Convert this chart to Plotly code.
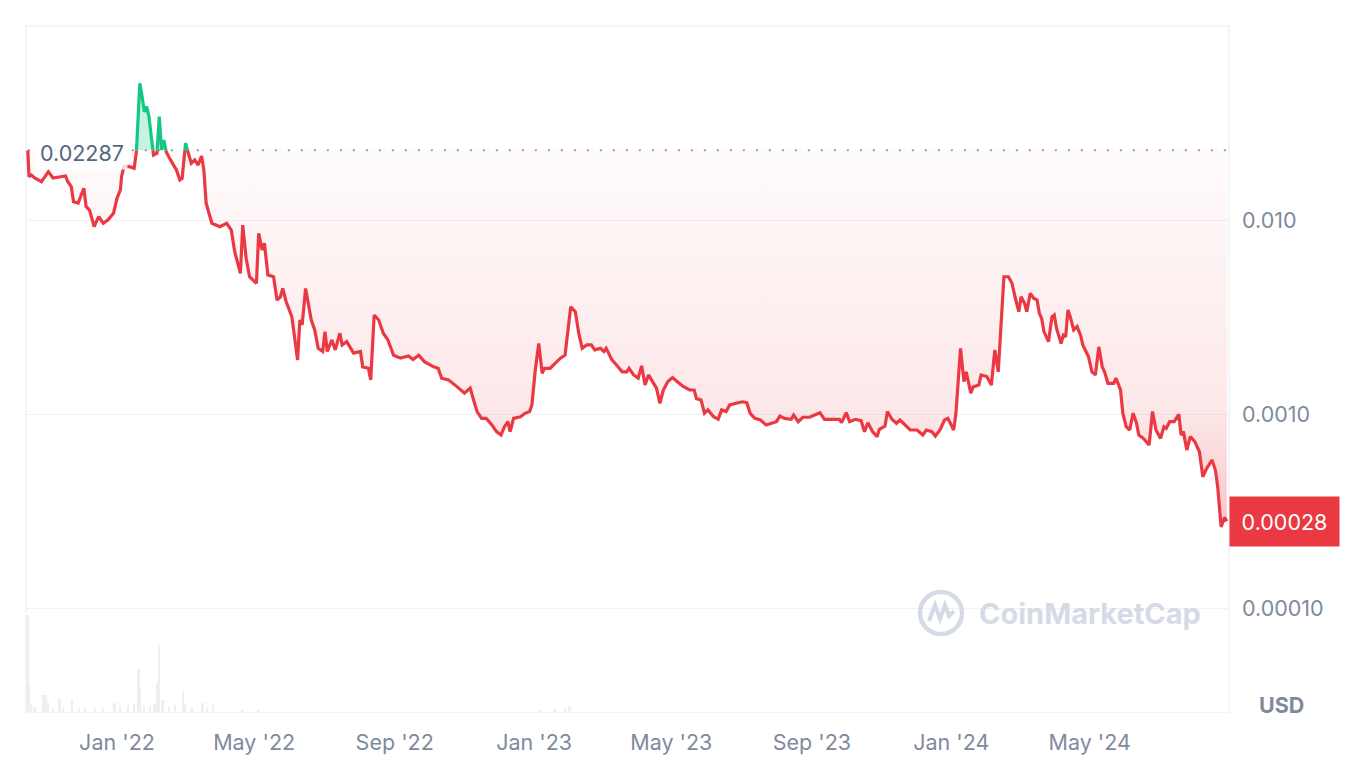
import numpy as np
import pandas as pd
import plotly.graph_objects as go

# ---------------- data ----------------
DATES = [
    "2021-10-15", "2021-10-16", "2021-10-18", "2021-10-21", "2021-10-27", "2021-11-02", "2021-11-06",
    "2021-11-14", "2021-11-17", "2021-11-19", "2021-11-22", "2021-11-24", "2021-11-28", "2021-12-03",
    "2021-12-05", "2021-12-08", "2021-12-12", "2021-12-16", "2021-12-20", "2021-12-24", "2021-12-29",
    "2022-01-01", "2022-01-04", "2022-01-05", "2022-01-07", "2022-01-12", "2022-01-16", "2022-01-18",
    "2022-01-21", "2022-01-23", "2022-01-25", "2022-01-27", "2022-01-29", "2022-01-31", "2022-02-02",
    "2022-02-05", "2022-02-07", "2022-02-09", "2022-02-11", "2022-02-13", "2022-02-16", "2022-02-19",
    "2022-02-22", "2022-02-25", "2022-02-27", "2022-03-02", "2022-03-04", "2022-03-07", "2022-03-10",
    "2022-03-13", "2022-03-16", "2022-03-18", "2022-03-20", "2022-03-25", "2022-04-01", "2022-04-07",
    "2022-04-11", "2022-04-14", "2022-04-19", "2022-04-21", "2022-04-24", "2022-04-27", "2022-05-03",
    "2022-05-05", "2022-05-08", "2022-05-10", "2022-05-13", "2022-05-18", "2022-05-21", "2022-05-24",
    "2022-05-26", "2022-05-29", "2022-06-03", "2022-06-06", "2022-06-08", "2022-06-10", "2022-06-12",
    "2022-06-15", "2022-06-17", "2022-06-20", "2022-06-23", "2022-06-26", "2022-06-30", "2022-07-02",
    "2022-07-04", "2022-07-08", "2022-07-11", "2022-07-15", "2022-07-17", "2022-07-21", "2022-07-27",
    "2022-08-02", "2022-08-04", "2022-08-09", "2022-08-11", "2022-08-14", "2022-08-18", "2022-08-22",
    "2022-08-26", "2022-08-31", "2022-09-06", "2022-09-13", "2022-09-17", "2022-09-22", "2022-09-27",
    "2022-10-05", "2022-10-09", "2022-10-12", "2022-10-18", "2022-10-22", "2022-10-27", "2022-11-01",
    "2022-11-06", "2022-11-09", "2022-11-12", "2022-11-16", "2022-11-20", "2022-11-25", "2022-11-29",
    "2022-12-03", "2022-12-06", "2022-12-09", "2022-12-11", "2022-12-14", "2022-12-20", "2022-12-24",
    "2022-12-28", "2022-12-30",
    "2023-01-02", "2023-01-05", "2023-01-08", "2023-01-10", "2023-01-15", "2023-01-19", "2023-01-24",
    "2023-01-28", "2023-01-30", "2023-02-02", "2023-02-06", "2023-02-09", "2023-02-12", "2023-02-16",
    "2023-02-20", "2023-02-23", "2023-02-28", "2023-03-03", "2023-03-05", "2023-03-10", "2023-03-14",
    "2023-03-19", "2023-03-23", "2023-03-25", "2023-03-29", "2023-04-02", "2023-04-05", "2023-04-08",
    "2023-04-11", "2023-04-15", "2023-04-18", "2023-04-21", "2023-04-24", "2023-04-28", "2023-05-02",
    "2023-05-06", "2023-05-11", "2023-05-17", "2023-05-21", "2023-05-23", "2023-05-27", "2023-05-30",
    "2023-06-02", "2023-06-07", "2023-06-11", "2023-06-14", "2023-06-18", "2023-06-21", "2023-06-27",
    "2023-07-02", "2023-07-06", "2023-07-09", "2023-07-13", "2023-07-18", "2023-07-23", "2023-07-28",
    "2023-08-01", "2023-08-04", "2023-08-08", "2023-08-14", "2023-08-16", "2023-08-20", "2023-08-24",
    "2023-08-30", "2023-09-04", "2023-09-08", "2023-09-12", "2023-09-20", "2023-09-25", "2023-09-27",
    "2023-10-01", "2023-10-04", "2023-10-09", "2023-10-14", "2023-10-17", "2023-10-20", "2023-10-24",
    "2023-10-28", "2023-10-30", "2023-11-04", "2023-11-06", "2023-11-10", "2023-11-14", "2023-11-17",
    "2023-11-21", "2023-11-26", "2023-12-02", "2023-12-07", "2023-12-10", "2023-12-15", "2023-12-18",
    "2023-12-22", "2023-12-26", "2023-12-29",
    "2024-01-03", "2024-01-05", "2024-01-09", "2024-01-12", "2024-01-14", "2024-01-18", "2024-01-20",
    "2024-01-25", "2024-01-27", "2024-02-01", "2024-02-05", "2024-02-08", "2024-02-11", "2024-02-14",
    "2024-02-16", "2024-02-20", "2024-02-23", "2024-02-26", "2024-02-29", "2024-03-02", "2024-03-05",
    "2024-03-07", "2024-03-10", "2024-03-13", "2024-03-16", "2024-03-18", "2024-03-20", "2024-03-22",
    "2024-03-26", "2024-03-29", "2024-03-31", "2024-04-02", "2024-04-04", "2024-04-06", "2024-04-08",
    "2024-04-10", "2024-04-12", "2024-04-14", "2024-04-17", "2024-04-20", "2024-04-23", "2024-04-25",
    "2024-04-30", "2024-05-03", "2024-05-06", "2024-05-09", "2024-05-12", "2024-05-14", "2024-05-17",
    "2024-05-22", "2024-05-24", "2024-05-28", "2024-05-30", "2024-06-02", "2024-06-05", "2024-06-08",
    "2024-06-11", "2024-06-13", "2024-06-17", "2024-06-22", "2024-06-25", "2024-06-28", "2024-07-02",
    "2024-07-05", "2024-07-07", "2024-07-10", "2024-07-14", "2024-07-18", "2024-07-20", "2024-07-22",
    "2024-07-25", "2024-07-28", "2024-08-01", "2024-08-05", "2024-08-08", "2024-08-11", "2024-08-16",
    "2024-08-19", "2024-08-21", "2024-08-24", "2024-08-27", "2024-08-29",
]

PRICES = [
    0.02287, 0.01672, 0.01706, 0.01646, 0.01575, 0.01774, 0.01646,
    0.01672, 0.01686, 0.01575, 0.01485, 0.01243, 0.01224, 0.01458,
    0.01171, 0.01126, 0.00924, 0.01040, 0.00962, 0.01000, 0.01083,
    0.01294, 0.01429, 0.01672, 0.01883, 0.01883, 0.01847, 0.02249,
    0.05064, 0.04321, 0.03616, 0.03837, 0.03408, 0.02688, 0.02163,
    0.02207, 0.03408, 0.02296, 0.02585, 0.02249, 0.02080, 0.01921,
    0.01811, 0.01608, 0.01640, 0.02486, 0.02249, 0.01960, 0.02038,
    0.01921, 0.02138, 0.01811, 0.01220, 0.00962, 0.00924, 0.00962,
    0.00888, 0.00686, 0.00531, 0.00942, 0.00635, 0.00510, 0.00472,
    0.00854, 0.00700, 0.00759, 0.00521, 0.00510, 0.00387, 0.00402,
    0.00444, 0.00379, 0.00317, 0.00231, 0.00190, 0.00305, 0.00288,
    0.00444, 0.00387, 0.00305, 0.00271, 0.00218, 0.00210, 0.00266,
    0.00210, 0.00241, 0.00214, 0.00261, 0.00227, 0.00236, 0.00206,
    0.00210, 0.00175, 0.00172, 0.00150, 0.00324, 0.00305, 0.00261,
    0.00241, 0.00201, 0.00194, 0.00199, 0.00191, 0.00201, 0.00186,
    0.00175, 0.00172, 0.00153, 0.00150, 0.00144, 0.00136, 0.00128,
    0.00136, 0.00118, 0.00103, 0.000950, 0.000950, 0.000878, 0.000811,
    0.000779, 0.000860, 0.000913, 0.000811, 0.000950, 0.000968, 0.001008,
    0.00103, 0.001113,
    0.00169, 0.00231, 0.00162, 0.00172, 0.00172, 0.00182, 0.00194,
    0.00201, 0.00255, 0.00357, 0.00337, 0.00261, 0.00218, 0.00227,
    0.00227, 0.00214, 0.00218, 0.00210, 0.00218, 0.00190, 0.00179,
    0.00165, 0.00165, 0.00172, 0.00159, 0.00153, 0.00177, 0.00141,
    0.00159, 0.00144, 0.00136, 0.001135, 0.00133, 0.00147, 0.00154,
    0.00147, 0.00139, 0.00133, 0.00133, 0.00120, 0.00118, 0.00101,
    0.00105, 0.000968, 0.000939, 0.00105, 0.00103, 0.001113, 0.001135,
    0.001156, 0.001143, 0.001008, 0.000950, 0.000931, 0.000878, 0.000896,
    0.000913, 0.000976, 0.000950, 0.000939, 0.000988, 0.000913, 0.000962,
    0.000962, 0.000988, 0.001016, 0.000939, 0.000939, 0.000939, 0.000902,
    0.001016, 0.000913, 0.000939, 0.000924, 0.000811, 0.000902, 0.000811,
    0.000764, 0.000834, 0.000867, 0.00103, 0.000939, 0.000896, 0.000931,
    0.000885, 0.000827, 0.000827, 0.000779, 0.000827, 0.000811, 0.000770,
    0.000827, 0.000931, 0.000950,
    0.000827, 0.001008, 0.00218, 0.00147, 0.00165, 0.00128, 0.00138,
    0.00141, 0.00159, 0.00156, 0.00141, 0.00214, 0.00165, 0.00351,
    0.00510, 0.00510, 0.00472, 0.00395, 0.00337, 0.00402, 0.00372,
    0.00337, 0.00419, 0.00395, 0.00387, 0.00330, 0.00311, 0.00266,
    0.00236, 0.00317, 0.00324, 0.00277, 0.00255, 0.00231, 0.00255,
    0.00250, 0.00344, 0.00317, 0.00271, 0.00282, 0.00255, 0.00227,
    0.00197, 0.00165, 0.00159, 0.00222, 0.00175, 0.00165, 0.00144,
    0.00144, 0.00153, 0.00133, 0.00101, 0.000860, 0.000827, 0.00101,
    0.000896, 0.000779, 0.000749, 0.000692, 0.00103, 0.000827, 0.000749,
    0.000860, 0.000844, 0.000913, 0.000913, 0.000997, 0.000779, 0.000811,
    0.000652, 0.000764, 0.000720, 0.000639, 0.000475, 0.000519, 0.000579,
    0.000514, 0.000422, 0.000262, 0.000293, 0.000280,
]

VOL_DATES = [
    "2021-10-15", "2021-10-16", "2021-10-18", "2021-10-21", "2021-10-29", "2021-10-31", "2021-11-02",
    "2021-11-06", "2021-11-12", "2021-11-15", "2021-11-23", "2021-11-29", "2021-12-04", "2021-12-13",
    "2021-12-20", "2021-12-30", "2022-01-04", "2022-01-11", "2022-01-16", "2022-01-20", "2022-01-21",
    "2022-01-25", "2022-01-30", "2022-02-03", "2022-02-05", "2022-02-07", "2022-02-10", "2022-02-16",
    "2022-02-21", "2022-02-28", "2022-03-02", "2022-03-08", "2022-03-17", "2022-03-21", "2022-03-26",
    "2022-04-21", "2022-05-05", "2023-01-06", "2023-01-19", "2023-01-28", "2023-02-01",
]
VOLUMES = [  # relative volume
    97, 29, 8, 5, 17, 17, 10,
    4, 13, 5, 13, 4, 5, 4,
    4, 9, 6, 7, 8, 43, 24,
    6, 6, 8, 30, 67, 12, 5,
    7, 21, 8, 4, 9, 5, 7,
    2, 2, 2, 3, 4, 6,
]

X_TICKS = ["2022-01-01", "2022-05-01", "2022-09-01", "2023-01-01", "2023-05-01",
           "2023-09-01", "2024-01-01", "2024-05-01"]
X_TICK_TEXT = ["Jan '22", "May '22", "Sep '22", "Jan '23", "May '23", "Sep '23", "Jan '24", "May '24"]
Y_TICKS = [0.01, 0.001, 0.0001]
Y_TICK_TEXT = ["0.010", "0.0010", "0.00010"]
X_RANGE = ["2021-10-13 09:36", "2024-08-30 21:36"]
Y_RANGE_LOG = [-4.536, -1.0]

# ---------------- styles ----------------
RED = "#EA3943"
GREEN = "#16C784"
GREY_TXT = "#808A9D"
GRID = "#EFF2F5"
FONT = "Inter"
FS = 21.5

# ---------------- split the line at the opening price ----------------
base = PRICES[0]
t = pd.to_datetime(DATES).values.astype("datetime64[ms]").astype(np.int64).astype(float)
lp = np.log10(np.array(PRICES))
lb = np.log10(base)
T, L = [t[0]], [lp[0]]
for i in range(1, len(t)):
    a, b = lp[i - 1] - lb, lp[i] - lb
    if a * b < 0:
        f = a / (a - b)
        T.append(t[i - 1] + f * (t[i] - t[i - 1]))
        L.append(lb)
    T.append(t[i])
    L.append(lp[i])
T = np.array(T)
L = np.array(L)
TX = pd.to_datetime(T.astype(np.int64), unit="ms")
eps = 1e-9
red_y = np.where(L <= lb + eps, 10 ** L, np.nan)
green_y = np.where(L >= lb - eps, 10 ** L, np.nan)
red_fill = 10 ** np.minimum(L, lb)
green_fill = 10 ** np.maximum(L, lb)
base_y = np.full(len(T), base)

fig = go.Figure()

# volume bars (bottom strip)
fig.add_trace(go.Bar(x=pd.to_datetime(VOL_DATES), y=VOLUMES, yaxis="y2",
                     marker=dict(color="#ECEFF4", line=dict(width=0)),
                     width=1.6 * 86400000, hoverinfo="skip", showlegend=False))

# red area between line and opening price
fig.add_trace(go.Scatter(x=TX, y=base_y, mode="lines", line=dict(width=0, color="rgba(0,0,0,0)"),
                         hoverinfo="skip", showlegend=False))
fig.add_trace(go.Scatter(x=TX, y=red_fill, mode="lines", line=dict(width=0, color="rgba(0,0,0,0)"),
                         fill="tonexty",
                         fillgradient=dict(type="vertical",
                                           colorscale=[[0, "rgba(234,57,67,0.30)"],
                                                       [0.3, "rgba(234,57,67,0.12)"],
                                                       [1, "rgba(234,57,67,0.02)"]]),
                         hoverinfo="skip", showlegend=False))
# green area
fig.add_trace(go.Scatter(x=TX, y=base_y, mode="lines", line=dict(width=0, color="rgba(0,0,0,0)"),
                         hoverinfo="skip", showlegend=False))
fig.add_trace(go.Scatter(x=TX, y=green_fill, mode="lines", line=dict(width=0, color="rgba(0,0,0,0)"),
                         fill="tonexty", fillcolor="rgba(22,199,132,0.24)",
                         hoverinfo="skip", showlegend=False))

# dotted opening-price line
fig.add_trace(go.Scatter(x=[pd.to_datetime(DATES[0]), pd.to_datetime(X_RANGE[1])], y=[base, base],
                         mode="lines", line=dict(color="#9A9A9A", width=2, dash="2px,11px"),
                         hoverinfo="skip", showlegend=False))

# price line
fig.add_trace(go.Scatter(x=TX, y=red_y, mode="lines", line=dict(color=RED, width=3.2),
                         connectgaps=False, showlegend=False))
fig.add_trace(go.Scatter(x=TX, y=green_y, mode="lines", line=dict(color=GREEN, width=3.2),
                         connectgaps=False, showlegend=False))

# the page adds an 8px body margin, so the figure is 8px smaller with 8px less left/top margin
fig.update_layout(
    width=1346, height=770,
    margin=dict(l=18, r=125, t=18, b=66),
    paper_bgcolor="white", plot_bgcolor="white",
    font=dict(family=FONT, color=GREY_TXT, size=FS),
    showlegend=False,
    xaxis=dict(type="date", range=X_RANGE, tickvals=X_TICKS, ticktext=X_TICK_TEXT,
               showgrid=False, zeroline=False, showline=False, ticks="",
               ticklabelstandoff=15, tickfont=dict(size=FS, color=GREY_TXT)),
    yaxis=dict(type="log", range=Y_RANGE_LOG, side="right", domain=[0, 1],
               tickvals=Y_TICKS, ticktext=Y_TICK_TEXT, showgrid=True, gridcolor=GRID, gridwidth=1.3,
               zeroline=False, showline=False, ticks="", ticklabelstandoff=12,
               tickfont=dict(size=FS, color=GREY_TXT)),
    yaxis2=dict(domain=[0, 100 / 686], range=[0, 100], visible=False, anchor="x"),
    bargap=0,
)

fig.add_shape(type="rect", xref="paper", yref="paper", x0=0, x1=1, y0=0, y1=1,
              line=dict(color=GRID, width=1.5), layer="below")

# opening price label
fig.add_annotation(xref="paper", yref="y", x=0.008, y=lb, xanchor="left", yanchor="middle",
                   yshift=-3, text=f"{base:.5f}", showarrow=False,
                   font=dict(size=FS, color="#58667E", family=FONT),
                   bgcolor="rgba(255,255,255,0.8)", borderpad=3)
# last price label
fig.add_annotation(xref="paper", yref="y", x=1, y=np.log10(PRICES[-1]), xanchor="left",
                   yanchor="middle", text=f"{PRICES[-1]:.5f}", showarrow=False,
                   font=dict(size=FS, color="white", family=FONT),
                   bgcolor=RED, width=85, height=25, borderpad=12)
# currency label
fig.add_annotation(xref="paper", yref="paper", x=1.0233, y=0.0102, xanchor="left", yanchor="middle",
                   text="<b>USD</b>", showarrow=False, font=dict(size=FS, color=GREY_TXT, family=FONT))
# watermark
fig.add_annotation(xref="paper", yref="paper", x=0.8845, y=0.143, xanchor="center", yanchor="middle",
                   text="<b>CoinMarketCap</b>", showarrow=False,
                   font=dict(size=29, color="#D5DBE6", family=FONT))
fig.add_shape(type="circle", xref="paper", yref="paper", xsizemode="pixel", ysizemode="pixel",
              xanchor=0.7606, yanchor=0.1443, x0=-21, x1=21, y0=-21, y1=21,
              line=dict(color="#D5DBE6", width=4.5))
fig.add_shape(type="path", xref="paper", yref="paper", xsizemode="pixel", ysizemode="pixel",
              xanchor=0.7606, yanchor=0.1443,
              path="M -12,-8 L -6,8 L -1,-6 L 4,8 L 8,-3 L 13,2",
              line=dict(color="#D5DBE6", width=4))

fig.write_html("out.html")
